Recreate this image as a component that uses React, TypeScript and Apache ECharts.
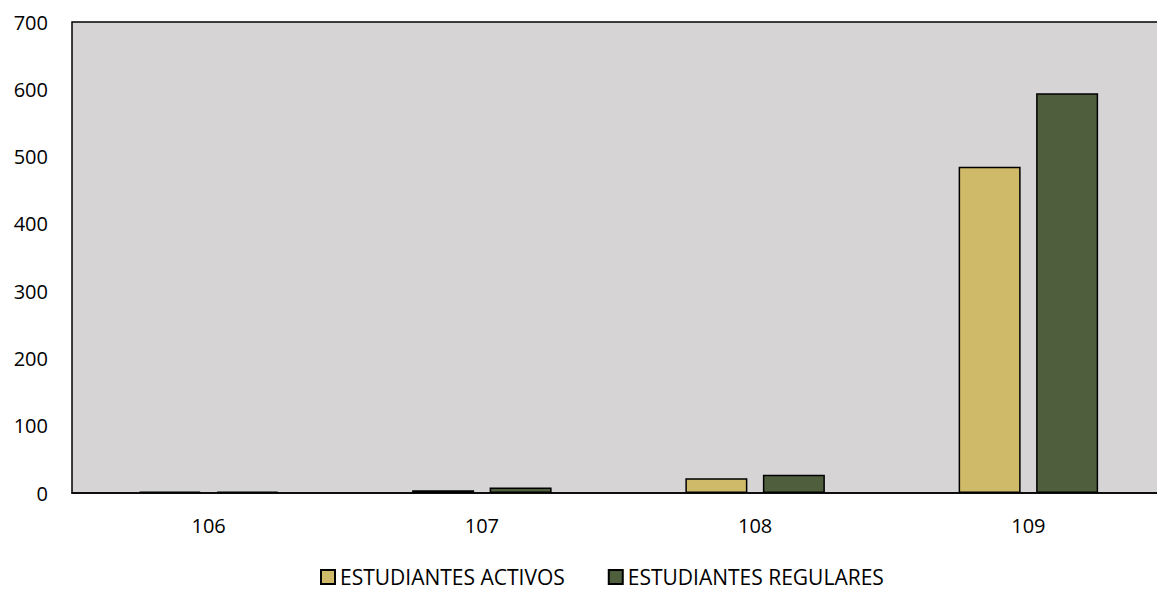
import React, { useEffect, useRef } from "react";
import * as echarts from "echarts";

const categories = ["106", "107", "108", "109"];
const activos = [2, 4, 22, 485];
const regulares = [2, 8, 27, 594];
const seriesNames = ["ESTUDIANTES ACTIVOS", "ESTUDIANTES REGULARES"];

export default function App() {
  const ref = useRef<HTMLDivElement>(null);
  useEffect(() => {
    const chart = echarts.init(ref.current!, undefined, { renderer: "svg" });
    const font = "'Open Sans', sans-serif";
    chart.setOption({
      animation: false,
      grid: {
        left: 72,
        top: 22,
        width: 1093,
        height: 471,
        show: true,
        backgroundColor: "#D6D4D5",
        borderColor: "#000000",
        borderWidth: 1.5,
      },
      legend: {
        data: seriesNames,
        top: 565,
        left: 320,
        itemWidth: 14,
        itemHeight: 14,
        itemGap: 43,
        icon: "rect",
        padding: 0,
        textStyle: { fontFamily: font, fontSize: 21, color: "#000", lineHeight: 24 },
      },
      xAxis: {
        type: "category",
        data: categories,
        axisLine: { show: true, lineStyle: { color: "#000", width: 1.5 } },
        axisTick: { show: false },
        axisLabel: { fontFamily: font, fontSize: 20, color: "#000", margin: 22 },
      },
      yAxis: {
        type: "value",
        min: 0,
        max: 700,
        interval: 100,
        splitLine: { show: false },
        axisLine: { show: false },
        axisTick: { show: false },
        axisLabel: { fontFamily: font, fontSize: 20, color: "#000", margin: 24 },
      },
      series: [
        {
          name: seriesNames[0],
          type: "bar",
          data: activos,
          barWidth: 62,
          barGap: "25%",
          itemStyle: { color: "#CFBA69", borderColor: "#000", borderWidth: 1.5 },
        },
        {
          name: seriesNames[1],
          type: "bar",
          data: regulares,
          barWidth: 62,
          barGap: "25%",
          itemStyle: { color: "#4F5F3E", borderColor: "#000", borderWidth: 1.5 },
        },
      ],
    });
    return () => chart.dispose();
  }, []);
  return (
    <div
      style={{ position: "absolute", left: 0, top: 0, width: 1157, height: 590, overflow: "hidden", background: "#fff" }}
    >
      <div ref={ref} style={{ width: 1180, height: 590 }} />
    </div>
  );
}
